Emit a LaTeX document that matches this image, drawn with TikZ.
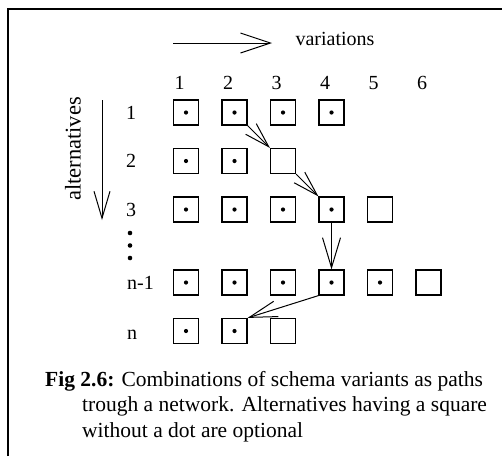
\documentclass[tikz,border=0pt]{standalone}
\usepackage{fontspec}
\setmainfont{Liberation Serif}
\usetikzlibrary{arrows.meta}
\usetikzlibrary{positioning}

\begin{document}
\begin{tikzpicture}[x=1pt, y=-1pt,
    cell/.style={draw, line width=1.2pt, minimum size=25pt, inner sep=0pt},
    dotcell/.style={cell, path picture={\fill (path picture bounding box.center) circle (2.1pt);}},
    link/.style={line width=1pt, -{Straight Barb[length=25pt, width=15pt]}},
    lbl/.style={font=\fontsize{20}{24}\selectfont, inner sep=0pt}]
    \useasboundingbox (0,0) rectangle (502,456);
    % frame, only left and top edges show
    \draw[line width=1.6pt] (8,456) -- (8,9) -- (502,9);

    % axes
    \coordinate (varstart) at (173,43);
    \coordinate (varend) at (272,43);
    \draw[line width=1pt, -{Straight Barb[length=30pt, width=20pt]}] (varstart) -- (varend);
    \node[lbl, anchor=base] (variations) at (335,45) {variations};
    \coordinate (altstart) at (102,100);
    \coordinate (altend) at (102,220);
    \draw[line width=1pt, -{Straight Barb[length=27pt, width=16pt]}] (altstart) -- (altend);
    \node[lbl, font=\fontsize{22.5}{26}\selectfont, rotate=90] (alternatives) at (73,149) {alternatives};

    % column and row numbers
    \foreach \col in {1,...,6}
        \node[lbl, anchor=base] (col\col) at ({186+48.5*(\col-1)-6.5},89) {\col};
    \node[lbl, anchor=west] (row1) at (126,112.5) {1};
    \node[lbl, anchor=west] (row2) at (126,161) {2};
    \node[lbl, anchor=west] (row3) at (126,209.5) {3};
    \node[lbl, anchor=west] (rowm) at (127,282.5) {n-1};
    \node[lbl, anchor=west] (rown) at (127,335) {n};
    \foreach \y in {233,245.5,258}
        \fill (130,\y) circle (2.3pt);

    % squares
    \foreach \row/\y/\k in {1/112.5/4, 2/161/2, 3/209.5/4, m/282.5/5, n/331/2}
        \foreach \col in {1,...,\k}
            \node[dotcell] (sq\row-\col) at ({186+48.5*(\col-1)},\y) {};
    \foreach \row/\y/\col in {2/161/3, 3/209.5/5, m/282.5/6, n/331/3}
        \node[cell] (sq\row-\col) at ({186+48.5*(\col-1)},\y) {};

    % path through the network
    \draw[link] (sq1-2.south east) -- (sq2-3.north west);
    \draw[link] (sq2-3.south east) -- (sq3-4.north west);
    \draw[link, -{Straight Barb[length=30pt, width=18pt]}] (sq3-4.south) -- (sqm-4.north);
    \draw[link, -{Straight Barb[length=28pt, width=16pt]}] (sqm-4.south west) -- (sqn-2.north east);

    % caption
    \node[font=\fontsize{21.5}{25.5}\selectfont, inner sep=0pt, anchor=north west, align=left] (caption) at (45,371)
        {\textbf{Fig 2.6:} Combinations of schema variants as paths\\
         \hspace*{37pt}trough a network. Alternatives having a square\\
         \hspace*{37pt}without a dot are optional};
\end{tikzpicture}
\end{document}
